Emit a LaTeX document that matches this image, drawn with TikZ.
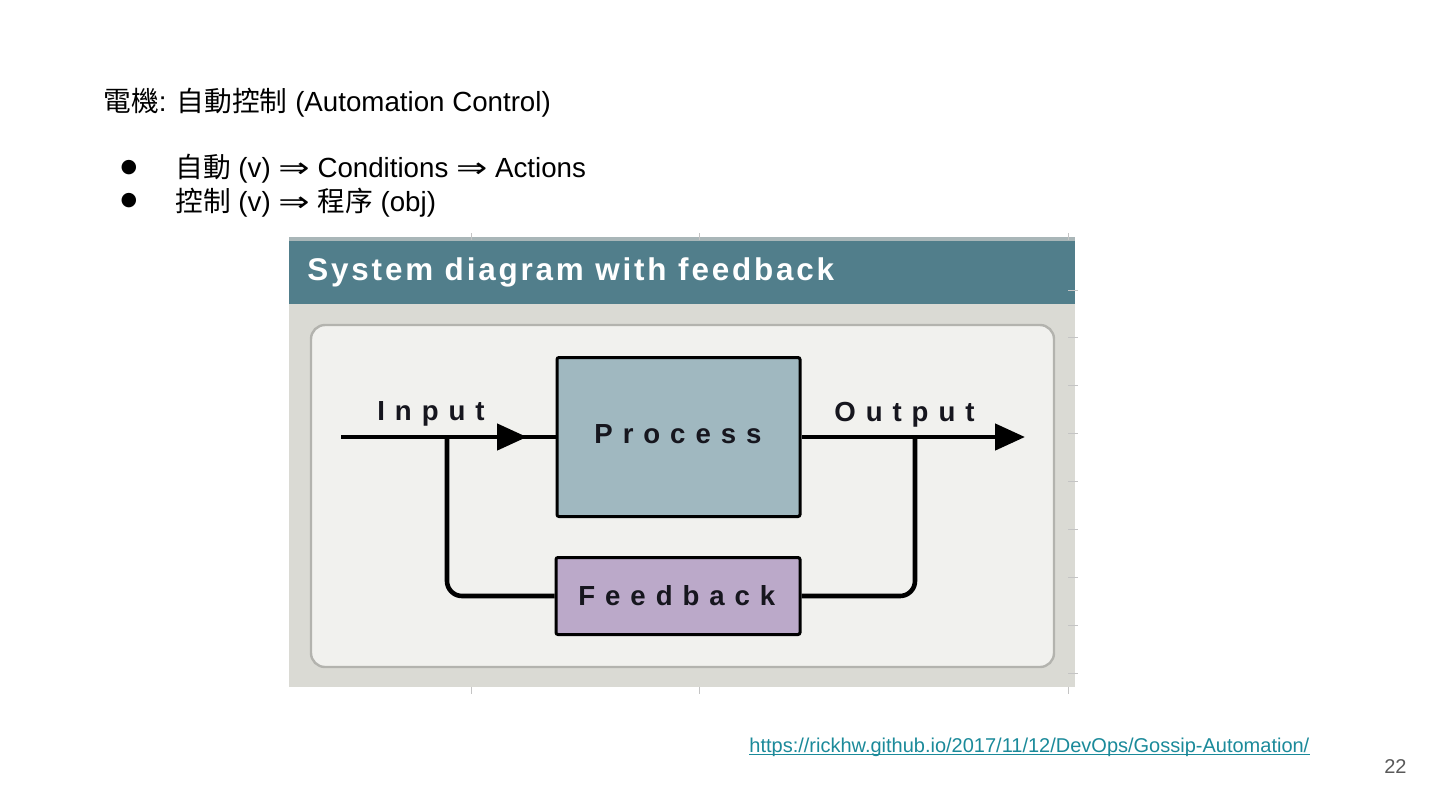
\documentclass[tikz,border=0pt]{standalone}
\usepackage{fontspec}
\setmainfont{Liberation Sans}
\newfontfamily\cjk{Noto Sans CJK TC}
\newfontfamily\dvs{DejaVu Sans}
\newfontfamily\lblfont{Liberation Sans}[LetterSpace=36]
\newfontfamily\hdrfont{Liberation Sans}[LetterSpace=9]
\newcommand\darr{{\dvs\scalebox{1.35}[1]{⇒}}}
\usetikzlibrary{arrows.meta}
\definecolor{band}{HTML}{517E8B}
\definecolor{bandtop}{HTML}{A9B6B8}
\definecolor{bodyc}{HTML}{DADAD4}
\definecolor{panelc}{HTML}{F1F1EE}
\definecolor{panelborder}{HTML}{B3B3AE}
\definecolor{procc}{HTML}{A0B8C0}
\definecolor{fbc}{HTML}{BBA9C9}
\definecolor{labelc}{HTML}{16161E}
\definecolor{linkc}{HTML}{1B8A9A}
\definecolor{pagec}{HTML}{595959}
\definecolor{tickc}{HTML}{C4C4C4}
\begin{document}
\begin{tikzpicture}[x=0.5pt,y=-0.5pt,
  txt/.style={anchor=base west, inner sep=0pt, font=\fontsize{13.85}{16}\selectfont},
  bul/.style={inner sep=0pt, font=\dvs\fontsize{9.5}{10}\selectfont},
  lbl/.style={anchor=base west, inner sep=0pt, text=labelc, font=\lblfont\bfseries\fontsize{13.8}{16}\selectfont},
  blk/.style={draw=black, line width=1.5pt, rounded corners=1pt, inner sep=0pt},
  wire/.style={line width=2.3pt, draw=black},
  tip/.style={-{Triangle[length=15pt,width=13pt]}},
  tick/.style={draw=tickc, line width=0.5pt}]
\useasboundingbox[fill=white] (0,0) rectangle (1440,810);

% slide text
\node[txt] (title) at (103,111) {{\cjk 電機}: {\cjk 自動控制} (Automation Control)};
\node[bul] (b1) at (129,168) {●};
\node[bul] (b2) at (129,201) {●};
\node[txt] (l1) at (175,177) {{\cjk 自動} (v) \darr{} Conditions \darr{} Actions};
\node[txt] (l2) at (175,211) {{\cjk 控制} (v) \darr{} {\cjk 程序} (obj)};

% picture frame
\fill[bandtop] (289,237) rectangle (1075,242);
\fill[band] (289,241) rectangle (1075,304);
\fill[bodyc] (289,304) rectangle (1075,687);
\draw[panelborder, line width=1.2pt, fill=panelc, rounded corners=7pt] (311,325) rectangle (1054,667);
\node[anchor=base west, inner sep=0pt, text=white, font=\hdrfont\bfseries\fontsize{15.7}{18}\selectfont] (hdr) at (307,280) {System diagram with feedback};

% ticks
\foreach \yy in {290,337,385,433,481,529,577,625,673} \draw[tick] (1068,\yy) -- (1078,\yy);
\foreach \xx in {471,699,1068} {\draw[tick] (\xx,233) -- (\xx,240); \draw[tick] (\xx,687) -- (\xx,694);}

% blocks
\node[blk, fill=procc, minimum width=121.5pt, minimum height=79.5pt] (proc) at (678.5,437) {};
\node[blk, fill=fbc, minimum width=122pt, minimum height=38.5pt] (fb) at (678,596) {};

% connectors
\coordinate (inS) at (341,437);
\coordinate (inTip) at (527,437);
\coordinate (outTip) at (1025,437);
\coordinate (jl) at (447,437);
\coordinate (jr) at (915,437);
\draw[wire] (inS) -- (proc.west);
\draw[wire, tip] (inS) -- (inTip);
\draw[wire, tip] (proc.east) -- (outTip);
\draw[wire, rounded corners=7.5pt] (jl) |- (fb.west);
\draw[wire, rounded corners=7.5pt] (jr) |- (fb.east);

% labels
\node[lbl] (inl) at (377,420) {Input};
\node[lbl] (outl) at (834,421) {Output};
\node[lbl] (procl) at (594,443) {Process};
\node[lbl] (fbl) at (578,605) {Feedback};

% footer
\node[anchor=base west, inner sep=0pt, text=linkc, font=\fontsize{10}{12}\selectfont] (url) at (749,752) {https://rickhw.github.io/2017/11/12/DevOps/Gossip-Automation/};
\draw[linkc, line width=0.6pt] ([yshift=-1.3pt]url.base west) -- ([yshift=-1.3pt]url.base east);
\node[anchor=base east, inner sep=0pt, text=pagec, font=\fontsize{10}{12}\selectfont] (pg) at (1407,773) {22};
\end{tikzpicture}
\end{document}
